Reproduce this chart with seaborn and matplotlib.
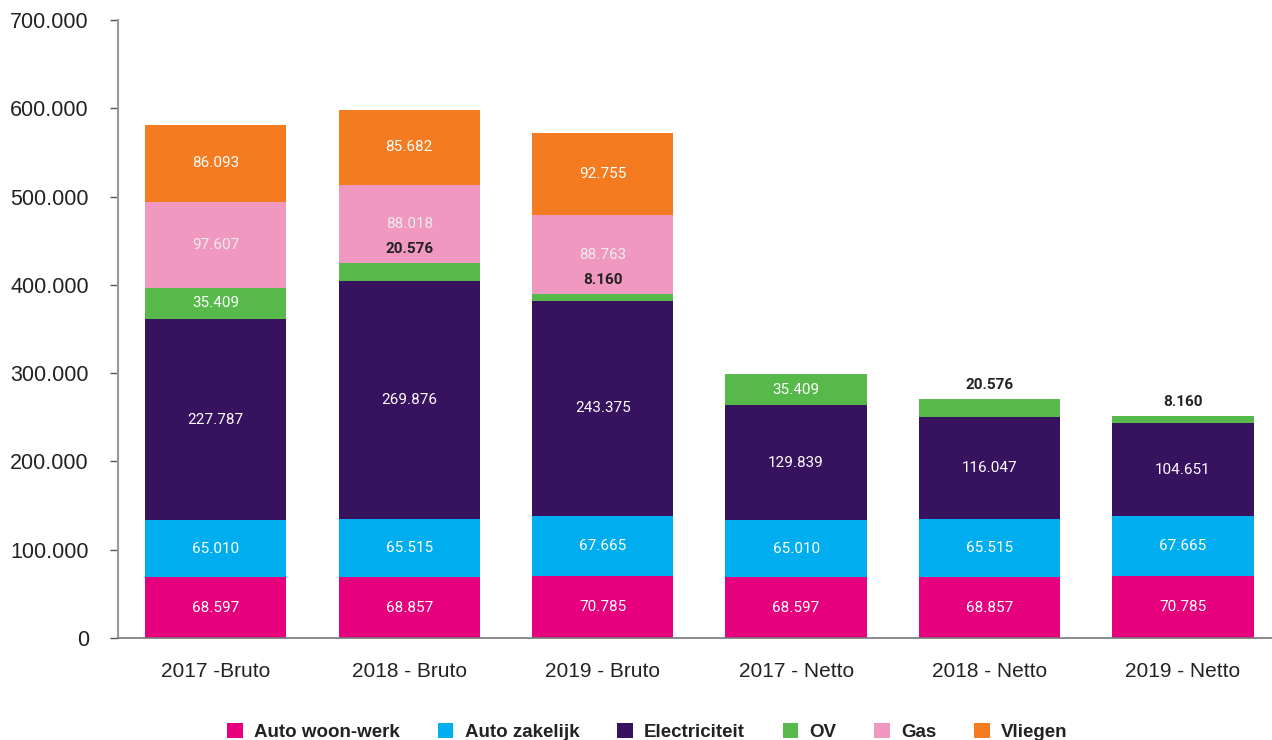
import matplotlib
matplotlib.use("Agg")
import matplotlib.pyplot as plt
from matplotlib.patches import Patch
import numpy as np
import seaborn as sns

categories = ["2017 -Bruto", "2018 - Bruto", "2019 - Bruto",
              "2017 - Netto", "2018 - Netto", "2019 - Netto"]
auto_woon_werk = [68597, 68857, 70785, 68597, 68857, 70785]
auto_zakelijk = [65010, 65515, 67665, 65010, 65515, 67665]
electriciteit = [227787, 269876, 243375, 129839, 116047, 104651]
ov = [35409, 20576, 8160, 35409, 20576, 8160]
gas = [97607, 88018, 88763, 0, 0, 0]
vliegen = [86093, 85682, 92755, 0, 0, 0]

series = [
    ("Auto woon-werk", auto_woon_werk, "#E6007E"),
    ("Auto zakelijk", auto_zakelijk, "#00AEEF"),
    ("Electriciteit", electriciteit, "#37125E"),
    ("OV", ov, "#56B949"),
    ("Gas", gas, "#F098C0"),
    ("Vliegen", vliegen, "#F47B20"),
]

sns.set_style("white")
plt.rcParams["font.family"] = ["Liberation Sans", "DejaVu Sans"]


def fmt(v):
    return f"{v:,.0f}".replace(",", ".")


fig = plt.figure(figsize=(12.72, 7.4), dpi=100)
ax = fig.add_axes([0.0928, 0.1378, 0.9072, 0.8352])

bottom = np.zeros(len(categories))
for name, vals, color in series:
    vals = np.array(vals, dtype=float)
    sns.barplot(x=categories, y=vals, bottom=bottom, color=color,
                width=0.73, saturation=1, ax=ax, linewidth=0)
    for i, v in enumerate(vals):
        if v == 0:
            continue
        if v < 30000:
            # small segment: bold dark label just above it
            ax.annotate(fmt(v), (i, bottom[i] + v), xytext=(0, 5),
                        textcoords="offset points", ha="center", va="bottom",
                        fontsize=11, fontweight="bold", color="#222222",
                        family=["Roboto", "DejaVu Sans"], zorder=5)
        else:
            tc = "#ececec" if name == "Gas" else "white"
            ax.text(i, bottom[i] + v / 2, fmt(v), ha="center", va="center",
                    fontsize=11, color=tc, family=["Roboto", "DejaVu Sans"])
    bottom += vals

ax.set_xlim(-0.505, 5.46)
ax.set_ylim(0, 700000)
ax.set_yticks(np.arange(0, 700001, 100000))
ax.set_yticklabels([fmt(v) for v in np.arange(0, 700001, 100000)])
ax.set_xlabel("")
ax.set_ylabel("")

for s in ["top", "right"]:
    ax.spines[s].set_visible(False)
ax.spines["left"].set_color("#999999")
ax.spines["left"].set_linewidth(1.5)
ax.spines["bottom"].set_color("#777777")
ax.spines["bottom"].set_linewidth(1.2)

ax.tick_params(axis="y", left=True, length=6, width=1, color="#555555",
               pad=15, labelsize=15.5, labelcolor="#222222")
ax.tick_params(axis="x", bottom=False, length=0, pad=17, labelsize=15,
               labelcolor="#222222")

handles = [Patch(facecolor=c, edgecolor="none", label=n) for n, _, c in series]
leg = fig.legend(handles=handles, loc="center", bbox_to_anchor=(0.509, 0.011),
                 ncol=6, frameon=False, handlelength=0.85, handleheight=0.85,
                 handletextpad=0.6, columnspacing=2.0,
                 prop={"family": ["Liberation Sans", "DejaVu Sans"],
                       "weight": "bold", "size": 13.5})
for t in leg.get_texts():
    t.set_color("#222222")

fig.savefig("out.png", dpi=100)
